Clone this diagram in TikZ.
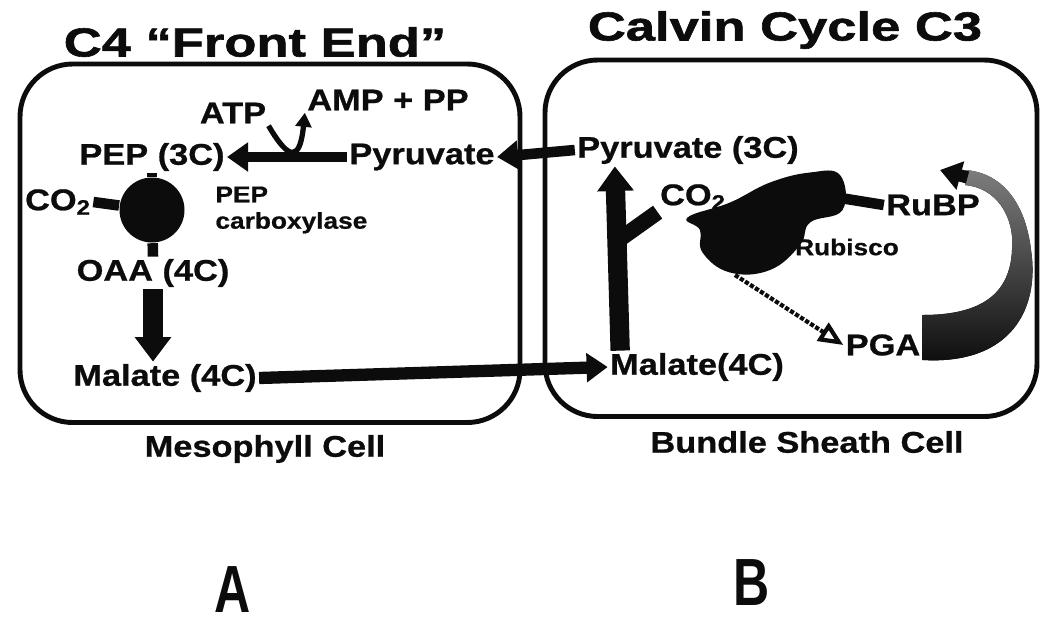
\documentclass[tikz,border=0pt]{standalone}
\usepackage{fontspec}
\setmainfont{Liberation Sans}
\newfontfamily\labelfont{Liberation Sans}[FakeStretch=1.15, FakeBold=0.8]
\newfontfamily\titlefont{Liberation Sans}[FakeStretch=1.3, FakeBold=1.5]
\newfontfamily\letterfont{Liberation Sans}[FakeStretch=0.75]
\usetikzlibrary{arrows.meta,calc}

\definecolor{cInk}{RGB}{12,12,12}
\definecolor{cGrain}{RGB}{125,125,125}

\begin{document}
\begin{tikzpicture}[thick,
  cell/.style={draw=cInk, line width=2.8pt, rounded corners=30pt},
  lbl/.style={font=\labelfont\bfseries\fontsize{17}{19}\selectfont, text=cInk, inner sep=1pt},
  sml/.style={font=\labelfont\bfseries\fontsize{13}{15}\selectfont, text=cInk, inner sep=1pt, align=left},
  ttl/.style={font=\titlefont\bfseries\fontsize{23}{26}\selectfont, text=cInk},
  big/.style={font=\letterfont\bfseries\fontsize{38}{40}\selectfont, text=cInk, inner sep=0pt},
  flow/.style={draw=cInk, line width=6pt, -{Triangle[length=12pt,width=16pt]}},
  fat/.style={draw=cInk, line width=11pt, -{Triangle[length=14pt,width=20pt]}},
  bond/.style={draw=cInk, line width=6pt},
  dotflow/.style={draw=cInk, line width=2.4pt, densely dotted, -{Triangle[open,length=14pt,width=12pt]}},
]
  \useasboundingbox (0,0) rectangle (20.9,-12.6);

  % ---- cells ----
  \draw[cell] (0.4,-1.28) rectangle (10.4,-8.45);
  \draw[cell] (10.9,-1.2) rectangle (20.74,-8.33);

  % ---- titles ----
  \node[ttl] (frontTtl) at (5.1,-0.84) {C4 “Front End”};
  \node[ttl] (calvinTtl) at (15.7,-0.6) {Calvin Cycle C3};

  % ---- mesophyll ----
  \node[lbl] (atp) at (4.66,-2.26) {ATP};
  \node[lbl] (amp) at (7.76,-2.0) {AMP + PP};
  \node[lbl] (pep) at (3.04,-3.14) {PEP (3C)};
  \node[lbl] (pyrL) at (8.44,-3.14) {Pyruvate};
  \node[lbl] (co2L) at (1.16,-4.04) {CO\textsubscript{2}};
  \node[circle, fill=cInk, minimum size=1.3cm, inner sep=0pt] (carbox) at (3.04,-4.2) {};
  \node[sml, anchor=west] (pepc) at (4.26,-4.2) {PEP\\carboxylase};
  \node[lbl] (oaa) at (3.06,-5.46) {OAA (4C)};
  \node[lbl] (malL) at (3.3,-7.56) {Malate (4C)};

  \draw[flow] (pyrL.west) -- (pep.east);
  \draw[cInk, line width=3pt, -{Triangle[length=8pt,width=9pt]}]
    (atp.south east) .. controls (5.8,-3.25) and (6.0,-3.2) .. (amp.south west);
  \draw[bond] (co2L.east) -- (carbox);
  \draw[bond] (pep.south) -- (carbox);
  \draw[bond] (carbox) -- (oaa.north);
  \draw[fat] (oaa.south) -- (oaa.south |- malL.north);

  % ---- bundle sheath ----
  \node[lbl] (pyrR) at (13.76,-3.0) {Pyruvate (3C)};
  \node[lbl] (co2R) at (13.86,-3.94) {CO\textsubscript{2}};
  \node[lbl] (rubp) at (18.66,-4.1) {RuBP};
  \node[sml] (rubisco) at (16.94,-4.94) {Rubisco};
  \node[lbl] (pga) at (17.66,-6.9) {PGA};
  \node[lbl] (malR) at (13.94,-7.34) {Malate(4C)};

  % enzyme blob
  \fill[cInk] plot[smooth cycle, tension=0.7] coordinates {
    (13.75,-4.35) (14.6,-4.05) (15.4,-3.65) (16.2,-3.45) (16.8,-3.5)
    (16.85,-4.2) (16.2,-4.45) (16.0,-4.9) (15.4,-5.4) (14.6,-5.45)
    (14.05,-5.05) (14.0,-4.6)};
  \coordinate (enzOut) at (16.75,-3.95);
  \coordinate (enzLow) at (14.7,-5.5);
  \coordinate (fork) at (12.3,-4.85);

  % cycle arrow
  \fill[top color=cGrain, middle color=cInk, bottom color=cInk]
    (18.45,-7.2) .. controls (20.2,-7.3) and (20.8,-6.2) .. (20.62,-5.0)
    .. controls (20.5,-4.0) and (20.0,-3.45) .. (19.3,-3.4)
    -- (19.3,-3.7) .. controls (19.9,-3.75) and (20.3,-4.3) .. (20.24,-5.0)
    .. controls (20.2,-5.9) and (19.6,-6.3) .. (18.45,-6.3) -- cycle;
  \coordinate (cycEnd) at (19.35,-3.55);
  \coordinate (cycTip) at (18.8,-3.4);

  \draw[fat] ($(malR.north west)+(0.25,0)$) -- ($(pyrR.south west)+(0.8,0)$);
  \draw[bond, line width=9pt] (fork) -- (co2R.south west);
  \draw[bond] (enzOut) -- (rubp.west);
  \draw[dotflow] (enzLow) -- (pga.west);
  \draw[cInk, line width=7pt, -{Triangle[length=12pt,width=16pt]}] (cycEnd) -- (cycTip);

  % ---- transport ----
  \draw[flow] (pyrR.west) -- (pyrL.east);
  \draw[flow, line width=7pt] (malL.east) -- (malR.west);

  % ---- captions ----
  \node[lbl] (mesoCap) at (5.3,-8.98) {Mesophyll Cell};
  \node[lbl] (bundleCap) at (16.14,-8.84) {Bundle Sheath Cell};
  \node[big] (capA) at (4.65,-11.8) {A};
  \node[big] (capB) at (15.03,-11.65) {B};

\end{tikzpicture}
\end{document}
